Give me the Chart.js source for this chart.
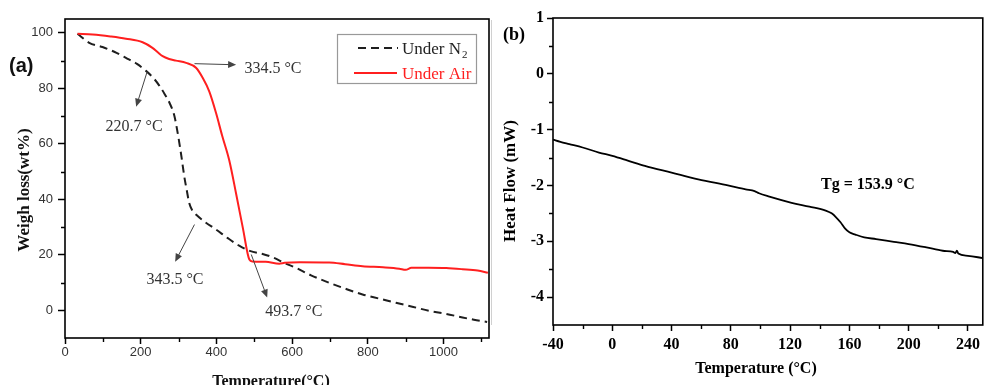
<!DOCTYPE html>
<html>
<head>
<meta charset="utf-8">
<script src="https://cdn.jsdelivr.net/npm/chart.js@4"></script>
<style>
  html, body { margin: 0; padding: 0; background: #fff; }
  #wrap { position: relative; width: 984px; height: 385px; overflow: hidden; }
  canvas { position: absolute; top: 0; }
  #tga { left: 0; }
  #dsc { left: 492px; }
</style>
</head>
<body>
<div id="wrap">
  <canvas id="tga" width="492" height="385"></canvas>
  <canvas id="dsc" width="492" height="385"></canvas>
</div>
<script>
// (a) TGA curves, temperature in C, weight in wt%
const tgaTempN2 = [33, 64, 99, 130, 161, 190, 214, 235, 249, 263, 276, 289, 300, 308, 315, 322, 328, 336, 346, 370, 399, 430, 460, 490, 520, 550, 580, 610, 650, 698, 740, 786, 830, 874, 920, 962, 1007, 1050, 1080, 1115];
const tgaWeightN2 = [99.7, 96.4, 94.9, 93.2, 91.0, 88.8, 86.3, 83.5, 81.0, 78.0, 74.8, 70.0, 62.0, 55.0, 48.3, 43.0, 38.7, 36.0, 34.5, 31.8, 29.1, 26.0, 23.3, 21.3, 20.4, 19.0, 17.0, 15.3, 12.6, 9.9, 7.8, 5.7, 4.2, 2.7, 1.2, -0.2, -1.3, -2.6, -3.4, -4.2];
const tgaTempAir = [33, 73, 120, 161, 205, 231, 245, 258, 275, 293, 320, 346, 364, 381, 399, 415, 434, 452, 470, 487, 495, 530, 566, 580, 620, 698, 740, 786, 840, 883, 900, 915, 960, 1007, 1050, 1090, 1117];
const tgaWeightAir = [99.7, 99.4, 98.7, 97.9, 96.6, 94.6, 93.0, 91.6, 90.6, 90.0, 89.2, 87.4, 83.7, 78.9, 71.1, 63.0, 54.0, 42.0, 29.5, 18.3, 17.6, 17.5, 16.8, 17.1, 17.3, 17.2, 16.6, 15.9, 15.5, 15.0, 14.6, 15.3, 15.3, 15.2, 14.8, 14.3, 13.5];
const tgaXTicks = [0, 200, 400, 600, 800, 1000];
const tgaXMinor = [100, 300, 500, 700, 900, 1100];
const tgaYTicks = [0, 20, 40, 60, 80, 100];
const tgaYMinor = [10, 30, 50, 70, 90];

// (b) DSC curve, temperature in C, heat flow in mW
const dscTemp = [-40, -35, -29, -20, -9, 0, 10, 22, 40, 58, 78, 90, 96, 99, 106, 121, 133, 144, 148, 151, 154, 157, 160, 164, 170, 178, 190, 200, 212, 223, 230, 231.5, 232.5, 233.5, 240, 250];
const dscHeat = [-1.18, -1.22, -1.26, -1.32, -1.41, -1.47, -1.55, -1.65, -1.77, -1.89, -2.00, -2.07, -2.10, -2.14, -2.20, -2.31, -2.38, -2.45, -2.50, -2.57, -2.66, -2.77, -2.84, -2.88, -2.93, -2.96, -3.01, -3.05, -3.11, -3.17, -3.19, -3.21, -3.17, -3.22, -3.26, -3.30];
const dscXTicks = [-40, 0, 40, 80, 120, 160, 200, 240];
const dscXMinor = [-20, 20, 60, 100, 140, 180, 220];
const dscYTicks = [-4, -3, -2, -1, 0, 1];
const dscYMinor = [-3.5, -2.5, -1.5, -0.5, 0.5];

// arrow notes on (a), in data units: arrow start, arrow tip, text left/middle
const tgaNotes = [
  { text: '334.5 °C', from: [342, 88.9], to: [452, 88.5], at: [474, 87.2] },
  { text: '220.7 °C', from: [217, 86.0], to: [188, 73.4], at: [107, 66.0] },
  { text: '343.5 °C', from: [342, 30.9], to: [291, 17.5], at: [215, 11.0] },
  { text: '493.7 °C', from: [492, 20.1], to: [534, 4.6], at: [529, -0.5] }
];

const SERIF = '"Liberation Serif", "Times New Roman", serif';
const SANS = '"Liberation Sans", Arial, sans-serif';

function pts(xs, ys) {
  return xs.map((x, i) => ({ x: x, y: ys[i] }));
}

function fixTicks(list) {
  return function (scale) {
    scale.ticks = list.map(v => ({ value: v }));
  };
}

function drawArrow(ctx, x1, y1, x2, y2, color) {
  const ang = Math.atan2(y2 - y1, x2 - x1);
  const len = 8, half = 3.5;
  ctx.strokeStyle = color;
  ctx.fillStyle = color;
  ctx.lineWidth = 1;
  ctx.beginPath();
  ctx.moveTo(x1, y1);
  ctx.lineTo(x2 - Math.cos(ang) * len * 0.6, y2 - Math.sin(ang) * len * 0.6);
  ctx.stroke();
  ctx.beginPath();
  ctx.moveTo(x2, y2);
  ctx.lineTo(x2 - Math.cos(ang) * len - Math.sin(ang) * half, y2 - Math.sin(ang) * len + Math.cos(ang) * half);
  ctx.lineTo(x2 - Math.cos(ang) * len + Math.sin(ang) * half, y2 - Math.sin(ang) * len - Math.cos(ang) * half);
  ctx.closePath();
  ctx.fill();
}

function frameAndMinor(chart, xMinor, yMinor) {
  const ctx = chart.ctx, a = chart.chartArea;
  const x = chart.scales.x, y = chart.scales.y;
  ctx.save();
  ctx.strokeStyle = '#000';
  ctx.lineWidth = 1.6;
  ctx.strokeRect(a.left, a.top, a.right - a.left, a.bottom - a.top);
  ctx.lineWidth = 1.4;
  ctx.beginPath();
  xMinor.forEach(v => {
    const px = Math.round(x.getPixelForValue(v)) + 0.5;
    ctx.moveTo(px, a.bottom);
    ctx.lineTo(px, a.bottom + 4);
  });
  yMinor.forEach(v => {
    const py = Math.round(y.getPixelForValue(v)) + 0.5;
    ctx.moveTo(a.left, py);
    ctx.lineTo(a.left - 4, py);
  });
  ctx.stroke();
  ctx.restore();
}

const tgaDecor = {
  id: 'tgaDecor',
  afterDraw(chart) {
    const ctx = chart.ctx;
    const x = chart.scales.x, y = chart.scales.y;
    frameAndMinor(chart, tgaXMinor, tgaYMinor);
    ctx.save();

    // notes with arrows
    tgaNotes.forEach(n => {
      drawArrow(ctx, x.getPixelForValue(n.from[0]), y.getPixelForValue(n.from[1]),
        x.getPixelForValue(n.to[0]), y.getPixelForValue(n.to[1]), '#444');
      ctx.fillStyle = '#333';
      ctx.font = '16px ' + SERIF;
      ctx.textAlign = 'left';
      ctx.textBaseline = 'middle';
      ctx.fillText(n.text, x.getPixelForValue(n.at[0]), y.getPixelForValue(n.at[1]));
    });

    // legend box
    const ds = chart.data.datasets;
    ctx.strokeStyle = '#999';
    ctx.lineWidth = 1.2;
    ctx.strokeRect(337.5, 34.5, 139, 49);
    ctx.lineWidth = 2;
    ctx.strokeStyle = ds[0].borderColor;
    ctx.setLineDash([8, 5]);
    ctx.beginPath(); ctx.moveTo(358, 48); ctx.lineTo(398, 48); ctx.stroke();
    ctx.setLineDash([]);
    ctx.strokeStyle = ds[1].borderColor;
    ctx.beginPath(); ctx.moveTo(354, 73); ctx.lineTo(397, 73); ctx.stroke();
    ctx.font = '17px ' + SERIF;
    ctx.textAlign = 'left';
    ctx.textBaseline = 'alphabetic';
    ctx.fillStyle = '#222';
    ctx.fillText('Under N', 402, 54);
    const w = ctx.measureText('Under N').width;
    ctx.font = '11px ' + SERIF;
    ctx.fillText('2', 402 + w + 1, 58);
    ctx.font = '17px ' + SERIF;
    ctx.fillStyle = ds[1].borderColor;
    ctx.fillText('Under Air', 402, 79);

    // axis titles and panel label
    ctx.fillStyle = '#111';
    ctx.font = 'bold 16px ' + SERIF;
    ctx.textAlign = 'center';
    ctx.fillText('Temperature(°C)', 271, 386);
    ctx.save();
    ctx.translate(25, 190);
    ctx.rotate(-Math.PI / 2);
    ctx.textBaseline = 'middle';
    ctx.font = 'bold 17px ' + SERIF;
    ctx.fillText('Weigh loss(wt%)', 0, 0);
    ctx.restore();
    ctx.font = 'bold 20px ' + SANS;
    ctx.textAlign = 'left';
    ctx.textBaseline = 'middle';
    ctx.fillText('(a)', 9, 66);

    // faint separator at the panel edge
    ctx.strokeStyle = '#d0d0d0';
    ctx.lineWidth = 1;
    ctx.beginPath(); ctx.moveTo(491.5, 20); ctx.lineTo(491.5, 325); ctx.stroke();
    ctx.restore();
  }
};

const dscDecor = {
  id: 'dscDecor',
  afterDraw(chart) {
    const ctx = chart.ctx;
    frameAndMinor(chart, dscXMinor, dscYMinor);
    ctx.save();
    ctx.fillStyle = '#000';
    ctx.font = 'bold 16px ' + SERIF;
    ctx.textAlign = 'left';
    ctx.textBaseline = 'middle';
    ctx.fillText('Tg = 153.9 °C', 329, 185);
    ctx.textAlign = 'center';
    ctx.textBaseline = 'alphabetic';
    ctx.fillText('Temperature (°C)', 264, 373);
    ctx.save();
    ctx.translate(19, 181);
    ctx.rotate(-Math.PI / 2);
    ctx.textBaseline = 'middle';
    ctx.font = 'bold 17px ' + SERIF;
    ctx.fillText('Heat Flow (mW)', 0, 0);
    ctx.restore();
    ctx.font = 'bold 18px ' + SERIF;
    ctx.textAlign = 'left';
    ctx.textBaseline = 'middle';
    ctx.fillText('(b)', 11, 35);
    ctx.restore();
  }
};

function axis(min, max, list, size, tick, pad, font, color) {
  return {
    type: 'linear',
    min: min,
    max: max,
    afterBuildTicks: fixTicks(list),
    afterFit: s => { if (s.isHorizontal()) s.height = size; else s.width = size; },
    border: { display: false },
    grid: { drawOnChartArea: false, drawTicks: true, tickLength: tick, tickWidth: 1.5, tickColor: '#000' },
    ticks: { autoSkip: false, maxRotation: 0, padding: pad, color: color, font: font, callback: v => String(v) }
  };
}

new Chart(document.getElementById('tga'), {
  type: 'line',
  data: {
    datasets: [
      {
        label: 'Under N2',
        data: pts(tgaTempN2, tgaWeightN2),
        borderColor: '#1e1e1e',
        borderWidth: 2,
        borderDash: [8, 5],
        pointRadius: 0,
        cubicInterpolationMode: 'monotone',
        order: 2
      },
      {
        label: 'Under Air',
        data: pts(tgaTempAir, tgaWeightAir),
        borderColor: '#ff1f1f',
        borderWidth: 2,
        pointRadius: 0,
        cubicInterpolationMode: 'monotone',
        order: 1
      }
    ]
  },
  options: {
    responsive: false,
    animation: false,
    devicePixelRatio: 1,
    layout: { padding: { left: 0, right: 3, top: 19, bottom: 0 } },
    plugins: { legend: { display: false }, tooltip: { enabled: false } },
    scales: {
      x: axis(0, 1120, tgaXTicks, 47, 6, 1, { family: SANS, size: 13 }, '#333'),
      y: axis(-10, 105, tgaYTicks, 65, 7, 5, { family: SANS, size: 13 }, '#333')
    }
  },
  plugins: [tgaDecor]
});

new Chart(document.getElementById('dsc'), {
  type: 'line',
  data: {
    datasets: [
      {
        label: 'DSC',
        data: pts(dscTemp, dscHeat),
        borderColor: '#000',
        borderWidth: 1.8,
        pointRadius: 0,
        cubicInterpolationMode: 'monotone'
      }
    ]
  },
  options: {
    responsive: false,
    animation: false,
    devicePixelRatio: 1,
    layout: { padding: { left: 0, right: 1, top: 18, bottom: 0 } },
    plugins: { legend: { display: false }, tooltip: { enabled: false } },
    scales: {
      x: axis(-40, 250, dscXTicks, 60, 6, 4, { family: SERIF, size: 16, weight: 'bold' }, '#000'),
      y: axis(-4.5, 1, dscYTicks, 61, 6, 3, { family: SERIF, size: 16, weight: 'bold' }, '#000')
    }
  },
  plugins: [dscDecor]
});
</script>
</body>
</html>
